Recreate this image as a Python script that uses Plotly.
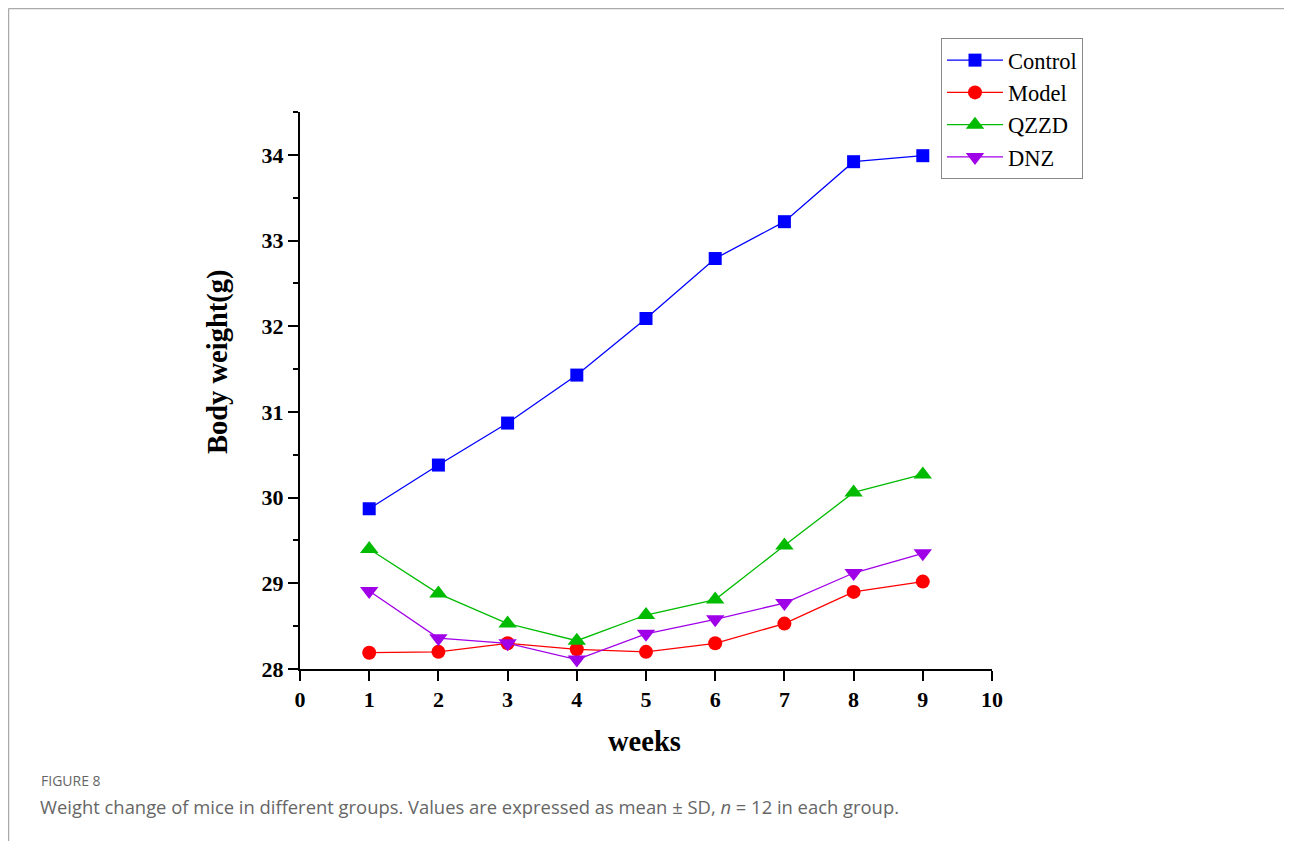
import plotly.graph_objects as go

weeks = [1, 2, 3, 4, 5, 6, 7, 8, 9]
control = [29.87, 30.38, 30.87, 31.43, 32.09, 32.79, 33.22, 33.92, 33.99]
model = [28.19, 28.20, 28.30, 28.23, 28.20, 28.30, 28.53, 28.90, 29.02]
qzzd = [29.40, 28.88, 28.53, 28.33, 28.63, 28.81, 29.44, 30.06, 30.27]
dnz = [28.91, 28.36, 28.30, 28.11, 28.41, 28.58, 28.77, 29.12, 29.35]

series = [
    ("Control", control, "#0000FF", "square", 13),
    ("Model", model, "#FF0000", "circle", 14),
    ("QZZD", qzzd, "#00BB00", "triangle-up", 16),
    ("DNZ", dnz, "#A000E8", "triangle-down", 16),
]

fig = go.Figure()
for name, vals, col, sym, sz in series:
    fig.add_trace(go.Scatter(
        x=weeks, y=vals, name=name, mode="lines+markers",
        line=dict(color=col, width=1.3),
        marker=dict(symbol=sym, size=sz, color=col),
    ))

# page has an 8px body margin: figure origin sits at (8, 8) of the window
OFF = 8
W, H = 1292 - OFF, 841 - OFF
L, T = 300 - OFF, 112 - OFF
pw, ph = 692, 557
R = W - L - pw
B = H - T - ph


def px(x):
    return (x - OFF - L) / pw


def py(y):
    return (T + ph - (y - OFF)) / ph


serif = "Liberation Serif, Times New Roman, serif"
axis_common = dict(
    showline=True, linecolor="black", linewidth=2,
    ticks="outside", ticklen=10, tickwidth=2, tickcolor="black",
    showgrid=False, zeroline=False,
    tickfont=dict(family=serif, size=22, color="black", weight="bold"),
)

fig.update_layout(
    width=W, height=H,
    margin=dict(l=L, r=R, t=T, b=B),
    plot_bgcolor="white", paper_bgcolor="white",
    xaxis=dict(range=[0, 10], tickvals=list(range(0, 11)), **axis_common),
    yaxis=dict(range=[28, 34.5], tickvals=list(range(28, 35)),
               minor=dict(ticks="outside", ticklen=5, tickwidth=2,
                          tickcolor="black", dtick=0.5, showgrid=False),
               **axis_common),
    legend=dict(
        x=px(941), y=py(38), xanchor="left", yanchor="top",
        bordercolor="#888888", borderwidth=1, bgcolor="white",
        font=dict(family=serif, size=22.5, color="black"),
        itemwidth=56, tracegroupgap=0,
    ),
    showlegend=True,
)

annotations = [
    dict(text="<b>Body weight(g)</b>", x=px(218), y=py(362), xref="paper", yref="paper",
         xanchor="center", yanchor="middle",
         textangle=-90, showarrow=False, font=dict(family=serif, size=28.5, color="black")),
    dict(text="<b>weeks</b>", x=px(644), y=py(741), xref="paper", yref="paper",
         xanchor="center", yanchor="middle",
         showarrow=False, font=dict(family=serif, size=28.5, color="black")),
    dict(text="FIGURE 8", x=px(39), y=py(780), xref="paper", yref="paper",
         xanchor="left", yanchor="middle", showarrow=False,
         font=dict(family="Open Sans, sans-serif", size=14, color="#666666")),
    dict(text="Weight change of mice in different groups. Values are expressed as mean \u00b1 SD, <i>n</i> = 12 in each group.",
         x=px(38), y=py(806), xref="paper", yref="paper",
         xanchor="left", yanchor="middle", showarrow=False,
         font=dict(family="Open Sans, sans-serif", size=18.4, color="#666666")),
]
fig.update_layout(annotations=annotations)

# outer frame (left, top, right edges)
frame_col = "#AAAAAA"
fig.add_shape(type="line", xref="paper", yref="paper",
              x0=px(8.5), x1=px(8.5), y0=py(8.5), y1=py(841), line=dict(color=frame_col, width=1.5))
fig.add_shape(type="line", xref="paper", yref="paper",
              x0=px(8.5), x1=px(1290), y0=py(8.5), y1=py(8.5), line=dict(color=frame_col, width=1.5))
fig.add_shape(type="line", xref="paper", yref="paper",
              x0=px(1290), x1=px(1290), y0=py(8.5), y1=py(841), line=dict(color=frame_col, width=1.5))

fig.write_html("out.html")
